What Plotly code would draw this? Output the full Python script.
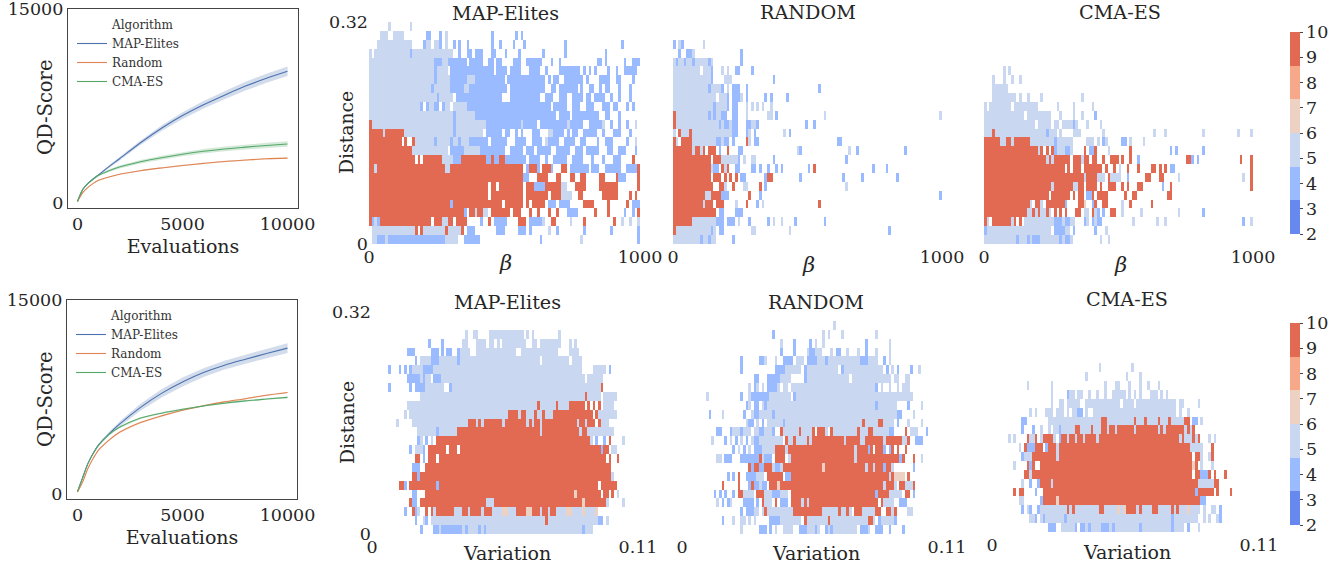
import re
import plotly.graph_objects as go

W, H = 1338, 566
FONT = "DejaVu Serif"
INK = "#262626"

evals = [0, 250, 500, 750, 1000, 1500, 2000, 3000, 4000, 5000, 6000, 7000, 8000, 9000, 10000]
top_map = [120, 1050, 1520, 1860, 2170, 2810, 3420, 4660, 5780, 6760, 7600, 8340, 9040, 9640, 10180]
top_rand = [120, 800, 1210, 1520, 1750, 2010, 2220, 2500, 2710, 2900, 3060, 3210, 3320, 3420, 3470]
top_cma = [120, 1056, 1520, 1855, 2140, 2500, 2780, 3190, 3500, 3770, 4000, 4180, 4320, 4450, 4560]
top_map_sd = [10, 30, 50, 60, 80, 110, 130, 180, 220, 260, 290, 310, 340, 350, 370]
top_rand_sd = [10, 30, 40, 40, 40, 40, 40, 50, 50, 50, 50, 50, 50, 50, 50]
top_cma_sd = [10, 30, 50, 70, 80, 100, 120, 140, 150, 160, 170, 180, 190, 200, 210]
bot_map = [180, 1290, 2370, 3145, 3780, 4650, 5400, 6700, 7780, 8660, 9390, 9960, 10420, 10860, 11280]
bot_rand = [150, 950, 1985, 2760, 3400, 4170, 4770, 5530, 6040, 6470, 6820, 7120, 7370, 7640, 7850]
bot_cma = [180, 1290, 2370, 3145, 3790, 4610, 5155, 5870, 6250, 6550, 6810, 7020, 7200, 7340, 7470]
bot_map_sd = [10, 40, 60, 80, 100, 150, 200, 270, 320, 340, 340, 340, 350, 360, 370]
bot_rand_sd = [10, 30, 40, 50, 60, 70, 70, 70, 70, 60, 60, 60, 60, 60, 60]
bot_cma_sd = [10, 30, 40, 50, 60, 70, 70, 70, 70, 70, 60, 60, 60, 60, 60]

# One string per row of bins, top row first. letter = elite band, digits = bin index or range.
levels = {"b": 4.0, "l": 5.3, "e": 6.5, "r": 9.5}
me_beta = [
"l7 l15",
"l4-6 l9-12 b21-22 b26 l28 b45 b54 b56",
"l3-15 b20 l21-22 l24-25 b26 l28 b31 b33 b36 b45 b48 b53 b57 b72 b93",
"l0 l2-14 b15 l16-30 b33 b36-37 b39-41 b45-46 b50 b55 b64 b72 b87",
"l0-23 b24-26 l27-28 b29-35 b37-41 b44-45 b47-48 b53-55 b58-63 b67 b70 b84-85 b87 b94 b97-99",
"l0-23 b24 l25-28 b30-36 b37-41 b42-45 b47-50 b52-55 b59-62 b65 b70-77 b79 b81 b83 b88 b91 b94-98",
"l0-23 b24 l25-29 b30-35 l36-38 b39-49 b51-64 b66 b68-69 b72-78 b80 b85-88 b91-92 b97",
"l0-22 b23 l24-29 b30-34 l35-36 b37-50 b52-64 b67-68 b70-76 b78 b81-82 b85 b87-88 b92 b96",
"l0-24 b25 l26-30 b32-48 b52-62 b65-67 b70-72 b75-78 b80-81 b83-86 b89 b92 b96",
"l0-18 b19 b21 l22-23 b24-25 b27 l28-29 l31-35 b36-59 b60-64 b65-66 b68-72 b75-77 b80-82 b86-88 b90-91 b95 b97",
"l0-30 b31 l32-38 b39-59 b60-68 b70-73 b75-80 b81-84 b87-88 b92",
"r0 l1-30 b31 l32-42 b43-55 l56 b57-61 b63-72 l73 b74-78 b81-85 l86 b89 b92 b95 l98",
"r0-4 l5 r6-12 l13-30 b31 l32-41 b43-48 b50-51 b54 b56 b60-62 l66-67 b68-71 b73 b75-76 b79-83 b86 b90-92 b96",
"r0-11 r13 r16 l17-23 b24 l25-29 b30 l31-32 b33 l34-36 b37-43 b45-50 b54-57 b60-63 l65 b66-69 b72-75 b78-79 b84 b87-89 b95 l98",
"r0-15 l16-28 b30-34 l35-40 b41-49 b52-56 b58-60 b62-66 b69-73 b76-78 b80-84 b88-89 b92-94 b98",
"r0-16 r18 r20-26 l27-30 b31-33 r34-36 r37-42 b43-44 r45 b46-47 r48-49 b50-57 b59-62 b65 b68-72 b75-78 b82 b86 b90-92 r97",
"r0-1 l2 r3-27 l28-29 r30-56 b58 r59-61 b62 r64-66 b67 r71-72 b74-80 b82-84 b87-92 b95-98 r99",
"r0-56 b57-58 r62-65 r69-70 r74-75 r78-79 r85-86 r91 b92-94 r99",
"r0-43 r45-46 r48-56 r58-60 b61-64 r65-70 l71-72 r76-79 r85-91 r99",
"r0-43 r45-56 r58-65 r67-70 l71-74 r77-78 r86-87 r88-91 r96 r98",
"r0-29 b30 r31-48 r50-56 r58 r60-64 b66-68 b70-73 r79-82 r88 r95 b97-99",
"r0-34 b35 r37-38 l39 r40-41 l42-43 r45-51 r53-55 r59 r62 r66 r69 b73-76 r83 r88 b94 b97 r99",
"r0 b1 l2 b3 r4-22 r24-26 l27-28 r29-30 r32-35 b41 r44 b46-50 r55-57 b59-63 l64 r67-68 l74 r79 r90 l93 l96 l99",
"l1-16 r17 r19 l20-27 r28 l29-33 r34 b36-38 b47-49 b55-57 b59 l66 b69 b79 b89 b99",
"l1-2 b3-5 l6 b7-27 l28-32 b35-40 b63 l78 b99",
]
rand_beta = [
"", "",
"b0 l2 b3 l11",
"b2 b5-6 l7 b25",
"l0 b1 l2-3 b4 l5-6 b7 l8-9 l10-12 b13 l14 b25",
"l0-9 l11-13 b14 l18 l20 b23-24 b29",
"l0-13 b14 l19-21 b37",
"l0-12 b13 l14-17 b18 l20 b22-24 b27 b54",
"l0-15 l17-19 b20 b22-24 l25 b27 b34 b36 b42",
"l0-14 b15 l16-19 b20 b22-23 l27 l29 l31 l33 l36",
"r0 l1-12 b13 l14 b15 l16-17 b18-19 b22-23 l27 l35-36 b38 l56 l99",
"r0 l1-16 b17 l18 b19-20 l21 b22-23 b27-28 l29-30 b31 b49 b52",
"l0 r2 l3-5 r6 l7-21 b22-23 b27 l28 b30 l41 b43",
"r0 l1 r3-6 l7-15 b16-17 l18 b19-20 b22 r27 l28 b30-31 b61-62",
"r0-6 l7 r8-9 l10 r11 r13-15 b17 r20 b24-25 l46 b47 l65 b68 b86",
"r0-13 r15-17 l18-23 b24 l26 l29-30 b37 b64",
"r0-13 l14 b15-16 r18 l19 r20 b23-24 b29-30 b32 b35 b38 b40 b50 r52 b74 b79",
"r0-13 r15-17 r19 r21 r23 b25-26 b34 r35-36 b47 b63 b70 b83",
"r0-14 r17-18 l19 r22 l26-27 r32 b34 l64",
"r0-11 l12-13 r14-17 b18-20 r28 b32 b99",
"r0-10 l11 r12-14 r16-18 l23 r27 b31 l33 r54",
"r0-15 b17-18 b23-25",
"r0-6 l7-15 b16-18 b20-22 l24 b28 b35 l37 l40 b45 b56",
"r0 l1-13 b14 l15 b17-18 l29-30 l43 b80",
"l0-9 b10 l11-12 b13 l14-15 b22",
]
cma_beta = [
"", "", "", "", "",
"l7 l9",
"l3 l7 l10 l13",
"l3-8",
"l3-8 l9-11 l13 l16 l21 l36",
"l0 l2-9 l11-19 l27 l33 l40",
"l0-14 l16-24 l28 l33 l36 b41",
"l0-18 l20-24 l26-27 l29-32 b33 l34 l38 l43",
"l0-2 r3 l4-22 b23 l24-26 l28 l33-35 l44 l63 l67 l81 l94 l99",
"r0-5 r8-9 r11-16 l6-7 l10 l17-25 b26 l27-29 l30-32 l38-40 l42 b44 l45 b51-52 l54 l59",
"r0-19 l20 r21 r23 r25 b26 l27-29 b30-31 l32 r37 b39-40 r41 l46 r54 b69 b71 b81",
"r0-22 l23 r24 l25 r26-29 r30-31 r33-35 l36 r37-38 r40-41 r44 r47-49 r51 r54 b57 r75-76 b77 b79 r95 r99",
"r0-29 r31 r33-35 r37-43 r45 r48 l50 r53 r57 r62-63 r65 r67 b69-70 r99",
"r0-36 l37 r38-41 l42-44 r46 l47-50 b53 r60-61 r65-66 l72 l96 r99",
"r0-24 l25 r26-32 l33-34 r35-36 r38-41 r43 r46-48 r51 r53 r57-58 b66 r69 r99",
"r0-23 r25-31 r33 r35-36 b38-39 r40 r42-45 r52 r55-56 r68-69",
"r0-16 l17 r19-20 l21 r23-29 b30 r35-36 e37 b40 r41 r44-45 l51 r54 r62",
"r0-15 l16-17 r18 l19 r20 l21-22 r23 l24 r26 r28 r30 r34-35 l37-38 r40 l41 b42 b44 r47-48 l51 l58 l72 b81",
"r0 l1 r3-9 l10 r11 r13 l15-25 b26-28 l29 b30-31 l32-33 b37 l38 b40 l41 b42-43 l55 l64 l67 b96 l99",
"b0 l1-24 b26-29 l30-31 b33 b41 l45",
"l0-11 b12 l13-15 b16 l17 b18-20 l21-27 b28 l29 b30-31 l32 l43 l46",
]
me_var = [
"", "",
"l35 l38-39 l44-56 l58 l60 l70",
"b21 b26 l34-35 l39-42 l44 l45 l47 l49-57 l60-61 l63-70 l74 l76",
"b13-15 b22-24 b26 b28 b29 b32 l33-36 l39-53 l56-69 l74-75 l76-77",
"b16 l18-21 b22-24 l25-31 b32 l33-62 l64-73 l75-78",
"b6 b10 b12 b14 l15-18 b19-22 l23-78 l83-87 b89",
"b13-17 l18 b19 l20-21 b23-25 l26-79 l81-86",
"b6 b14 b16-19 l20-26 b29 l30-85 r86",
"l18-79 r80 l81-85 l87-91",
"l13-61 r62 l63-68 r69 l70-73 r74-76 r77-79 r81 r83 r85 l87-90",
"l12 l14-15 l16-50 r51-54 l55 r56-57 l58-60 r61 l62-63 r64 l65-67 r68-82 r84 l85-91",
"l9 l15-35 r36-38 l39 r40 l41 r42-48 l49 r50-57 l58 r59 l60 r61-62 l63 r64-76 l77 r78-79 l80 r81-83 r85 l86-88",
"l17-23 b24 l25-31 r32-62 l63 r64-77 l78 r79-80 l81-90",
"b17 l18 b20 l22 r24-81 l82 b84 b87 r89 l94",
"b14 l16-18 b19 r21-27 r29-31 r33-85 b86 r87-88 l90-91",
"r16-17 b19 r21-23 r25-87 r89 r92",
"b15-17 r20-89",
"r15-16 b17 r18-89 l90",
"r10-11 b12 r14-23 b24 r25-84 r86-91",
"b15-16 r20-75 e76 r77-85 r87-88 r90 l92",
"r14 b15-16 r18-42 l43-45 r46-78 e79 r80-86 r87 l88 l94",
"b12 r15 b16 l17 r20 r22 l23 r24-26 r27-30 l31-33 r34-35 l36 r37-40 l41 r42-44 l45-48 e49-50 l51-53 r54-57 e58-59 r60-62 l63 r64-65 l66 r67-68 l69-72 e73-74 l75-78 e79 l80-83 e84",
"b16 l19 b20 l22-25 l26-64 r65 l66-84 b85-86 l88",
"b18 b23-24 l25 b26-33 l34 b35 l36-39 b40 l41 b42 l43-78 b79 l80-82",
]
rand_var = [
"",
"l57",
"b34 l53 l55 l60 l73",
"l37 b42 b48 l50 l53 b69 l78",
"b37 b42 l47 b48-49 l50-52 l56 b58-59 l62 l66 b69 l73 l78",
"b22 b29-30 l31 l35 b38-41 l43-45 b47-50 l51-53 b54 l55-66 b67-69 l70-73 b76 l78",
"b22 b35-38 l39-44 b46 l47-58 b60 l61-75 b77 l79 b81 b86 l89",
"b27-28 b32-36 l37-40 b46 l47-62 l64-78 l80-81 l84-85",
"l25 b27 l28 l30 b32-35 l36 l38-39 l41-72 b73 l75 l78 l81 l83-85",
"l9 b22 l25 b26-30 b31-32 l33-40 b42 l43-86",
"b24 l25 b27-28 l30 b31 l32-72 b73 l74-80 b85 l90",
"b10 l15 b23 l26 b27-28 l29-33 b34 l35-80 b81-82 l87",
"l24 b25-26 l28 b30 l32-37 b38 l39-67 r68 l69-73 r74-75 l76-79 b81 l85 l90",
"b13-14 b18 l19-21 b22 l23-25 l27-28 b29-30 l31-33 b34 r37 l38-43 r44 l45-48 r49 r51-53 l54 r56 l57-65 r66 l67-69 r70-71 l72-77 b78-79 r84 l86-88 b92",
"l11 b16 l18 b20 l22 b24 l26 b27-28 l29-37 r39 l40-41 r42 l43-46 r47 l48 r49-60 l61 r62-66 l67-68 r69-71 r72-75 l76 r77-82 l83-84 r85 b88-90",
"b19 l21 b23 l25 b27-29 l30-34 r35-38 l39 r40-64 l65 r66-69 b70 r71 r73-75 b76 b78 r79 r81 r84",
"l13-14 b16-18 b22-28 r29 l30 b31-33 r35-38 l40 r41-64 l65 r66-81 b82 r83 r87 l90",
"r25 b26 r27-28 b29-30 r31-33 l34 b35-36 l37 r38-52 e53 r54-68 l69 r70-71 l72 r73-75 b76 r77-78 l79 b87",
"b17 b19 r21 b24-27 l28-30 r32-35 r36-37 b39-40 r41-77 l78 r79 e80-83 r85",
"r15 r21 b25 r26 b27-28 l29 b30-31 r33-35 e36 r37-75 l76 r77-79 l80 r82-83 l84-86 r87",
"b12 b14 b16 b19 r21-22 l23-26 r28-30 l31-33 b34-36 l37-39 r41-72 b73 r74-77 l78-82 r84-85 b87",
"l13 b15 b17 l18 b23-26 b28 r30 l31-33 r35 b37-39 r41-44 l45 r46 l47 r48-73 r75 l76-79 b82-84",
"b22 b24-26 l27-28 l30 r31 l32-41 r42-52 l53-58 r59 l60-61 r62 l63 r65-67 l68-72 r73-74 r77-78 l79 r80 l85-86",
"b15 l19 l22-23 l25 l27 b33-36 l37-44 r46 l47-54 r55 l56-69 r70-71 l72 b74 l75-79 b80",
"l22 b29-31 b33 l35 l38-41 b44-46 l47-49 b50 l51 b54 l55 b56 l57-65 b67-69 l70 b73-75 b78 b83",
]
cma_var = [
"", "", "", "", "", "",
"l40 l52",
"l35 l50 l55",
"l13 l22 l42 l46-47 l51 l55 l58 l62",
"l22 b28 l29-30 l32-33 l36 l39 l42 l45-49 l51 l53 l55 l59-61 l63 l65",
"l22 l25-26 l28-32 l35-47 l49-52 l54-68 l70-71 l77",
"l14 l16 l20-22 l24-26 l28 l30-31 b32-33 l35 l38-68 l70 l73",
"b11-12 l21-40 r41-42 l43-52 r53 l54-56 r57 l58-61 r62 l63-65 r66 l67-71 r72-73 b75-76 l78",
"b11 b15 l18 l21 l23-24 b25 l26-30 r31-32 l33-36 r37 l38-40 r41-42 l43 r44-45 l46 r47-52 l53 r54-61 l62 r63 l64 r65-71 l72 r73 l74 r75",
"l6 l8 r13 l14-15 r16 l18 r19-22 l23 b25 r26-27 l28 r29-30 l31 r32-33 l34 r35-38 l39 r40-69 l70 r71 l72-74 r75 l76 r77 l81 l83",
"l10 r12 b13-15 r16-18 b20 r21-23 l24 r25-73 l74-78 r82",
"b11 l12-14 r15-22 r23 l24 r25-74 r76-77 l78 l81 r82",
"l8 r13 b14 r15 r18-74 e75 r76 l78 l82",
"r12-13 l14 r15-74 r76-77 b78-80 r81 r83 r87",
"l11 b14 b17 r18-21 l22 r23-76 l77-82 r83-84",
"r8 r10-11 b16 r19-75 b76 r77-82 r84 r89",
"l10-11 b18 r19-21 r22-77 e24 b78-79",
"b11 l13 b14 b17 l18-27 r28 l29 r30 l31-39 r40-41 l42-46 e47 l48 e49 r50-53 l54 r55 l56-59 r60-61 l62-66 r67 l68 r69 l70-72 e73 l74-77 l79 l82-83 b85",
"l14-15 b16 l18 b19 l20-26 b27 l28-66 b67 l68-76 l79 l81 l84 b85",
"b21-23 l26-28 l29-30 b31 b33-34 l35 b36 l37-40 b41-43 l44 b45 l46-54 b55 l56-66 b67 l68-71 b73 l77",
]
colorbar_ticks = [2, 3, 4, 5, 6, 7, 8, 9, 10]
titles = ["MAP-Elites", "RANDOM", "CMA-ES"]
algo_names = ["MAP-Elites", "Random", "CMA-ES"]
x_ticks = [0, 5000, 10000]
y_ticks = [0, 15000]


def grid(rows):
    """Rows are written top first; the grid is returned bottom first."""
    out = []
    for row in reversed(rows):
        cells = [None] * 100
        for letter, a, b in re.findall(r"([a-z])(\d+)(?:-(\d+))?", row):
            for i in range(int(a), int(b or a) + 1):
                cells[i] = levels[letter]
        out.append(cells)
    return out


def dom(a, b, size):
    return [a / size, b / size]


def ydom(top, bottom):
    return [1 - bottom / H, 1 - top / H]


def label(text, x, y, size, angle=0):
    return dict(text=text, x=x / W, y=1 - y / H, xref="paper", yref="paper", textangle=angle,
                xanchor="center", yanchor="middle", showarrow=False, font=dict(size=size))


colors = ["#6788ee", "#9abbff", "#c9d7f0", "#edd1c2", "#f7a889", "#e26952"]
scale = []
for i, c in enumerate(colors):
    scale += [[i / 6, c], [(i + 1) / 6, c]]
line_colors = ["#4c72b0", "#dd8452", "#55a868"]
bands = ["rgba(76,114,176,0.25)", "rgba(221,132,82,0.25)", "rgba(85,168,104,0.25)"]

fig = go.Figure()
layout = dict(
    width=W, height=H, margin=dict(l=0, r=0, t=0, b=0, autoexpand=False), autosize=False,
    paper_bgcolor="white", plot_bgcolor="white",
    font=dict(family=FONT, color=INK, size=17),
    showlegend=True,
)
annotations = []

# QD-score line panels
line_panels = [
    dict(ax="", box=(68, 298, 9, 208), zero=203.0, series=[top_map, top_rand, top_cma],
         sd=[top_map_sd, top_rand_sd, top_cma_sd], legend="legend", lx=72, ly=10, ty=108),
    dict(ax="2", box=(67, 297, 300, 499), zero=494.0, series=[bot_map, bot_rand, bot_cma],
         sd=[bot_map_sd, bot_rand_sd, bot_cma_sd], legend="legend2", lx=71, ly=301, ty=400),
]
for p in line_panels:
    x0, x1, y0, y1 = p["box"]
    xid, yid = "x" + p["ax"], "y" + p["ax"]
    fig.add_trace(go.Scatter(x=[None], y=[None], mode="lines", name="Algorithm",
                             line=dict(color="rgba(0,0,0,0)", width=1),
                             xaxis=xid, yaxis=yid, legend=p["legend"]))
    for name, vals, sd, lc, bc in zip(algo_names, p["series"], p["sd"], line_colors, bands):
        up = [v + s for v, s in zip(vals, sd)]
        lo = [v - s for v, s in zip(vals, sd)]
        fig.add_trace(go.Scatter(x=evals + evals[::-1], y=up + lo[::-1], fill="toself", fillcolor=bc,
                                 mode="none", hoverinfo="skip", showlegend=False,
                                 xaxis=xid, yaxis=yid))
        fig.add_trace(go.Scatter(x=evals, y=vals, mode="lines", name=name,
                                 line=dict(color=lc, width=1.1, shape="spline", smoothing=0.8),
                                 xaxis=xid, yaxis=yid, legend=p["legend"]))
    px_per = 210 / 10000
    ypx = (p["zero"] - y0) / 15000
    layout["xaxis" + p["ax"]] = dict(
        domain=dom(x0, x1, W), anchor=yid, range=[-(77.5 - x0) / px_per, (x1 - 77.5) / px_per],
        tickvals=x_ticks, ticktext=[str(v) for v in x_ticks], ticks="", showgrid=False, zeroline=False,
        showline=True, mirror=True, linecolor="#444", linewidth=1.3,
        title=dict(text="Evaluations", font=dict(size=19), standoff=6), tickfont=dict(size=17.5))
    layout["yaxis" + p["ax"]] = dict(
        domain=ydom(y0, y1), anchor=xid, range=[-(y1 - p["zero"]) / ypx, 15000],
        tickvals=y_ticks, ticktext=[str(v) for v in y_ticks], ticks="", showgrid=False, zeroline=False,
        showline=True, mirror=True, linecolor="#444", linewidth=1.3, ticklabeloverflow="allow",
        tickfont=dict(size=17.5))
    annotations.append(label("QD-Score", 45, p["ty"], 19.5, -90))
    layout[p["legend"]] = dict(x=p["lx"] / W, y=1 - p["ly"] / H, xanchor="left", yanchor="top",
                               bgcolor="rgba(0,0,0,0)", font=dict(size=12, color="#333"),
                               itemwidth=30, tracegroupgap=0)

# Heatmap panels
heat_panels = [
    dict(rows=me_beta, box=(369, 640, 22, 244), kind="beta", title=0, tx=505, ty=13, ca="coloraxis", ytick=True, lx=505, ly=263, dx=346, dy=133),
    dict(rows=rand_beta, box=(673, 942, 22, 244), kind="beta", title=1, tx=808, ty=12, ca="coloraxis", ytick=False, lx=808, ly=265),
    dict(rows=cma_beta, box=(984, 1253, 22, 244), kind="beta", title=2, tx=1120, ty=12, ca="coloraxis", ytick=False, lx=1120, ly=265),
    dict(rows=me_var, box=(372, 638, 312, 534), kind="var", title=0, tx=507, ty=302, ca="coloraxis2", ytick=True, lx=507, ly=553, dx=347, dy=423),
    dict(rows=rand_var, box=(682, 947, 312, 534), kind="var", title=1, tx=816, ty=302, ca="coloraxis2", ytick=False, lx=816, ly=553),
    dict(rows=cma_var, box=(992, 1259, 310, 532), kind="var", title=2, tx=1127, ty=299, ca="coloraxis2", ytick=False, lx=1127, ly=552),
]
for n, p in enumerate(heat_panels):
    k = str(n + 3)
    x0, x1, y0, y1 = p["box"]
    xmax = 1000 if p["kind"] == "beta" else 0.11
    fig.add_trace(go.Heatmap(z=grid(p["rows"]), x0=xmax / 200, dx=xmax / 100, y0=0.0064, dy=0.0128,
                             coloraxis=p["ca"], xaxis="x" + k, yaxis="y" + k, xgap=0, ygap=0,
                             hoverongaps=False, showlegend=False))
    layout["xaxis" + k] = dict(
        domain=dom(x0, x1, W), anchor="y" + k, range=[0, xmax], tickvals=[0, xmax],
        ticktext=["0", "1000" if p["kind"] == "beta" else "0.11"], ticks="", showgrid=False,
        zeroline=False, showline=False, tickfont=dict(size=17.5), ticklabeloverflow="allow")
    layout["yaxis" + k] = dict(
        domain=ydom(y0, y1), anchor="x" + k, range=[0, 0.32],
        tickvals=[0, 0.32] if p["ytick"] else [], ticktext=["0", "0.32"] if p["ytick"] else [],
        ticks="", showgrid=False, zeroline=False, showline=False, tickfont=dict(size=17.5),
        ticklabeloverflow="allow")
    annotations.append(label(titles[p["title"]], p["tx"], p["ty"], 19.2))
    if p["kind"] == "beta":
        annotations.append(label("<i>β</i>", p["lx"], p["ly"], 21))
    else:
        annotations.append(label("Variation", p["lx"], p["ly"], 19))
    if p["ytick"]:
        annotations.append(label("Distance", p["dx"], p["dy"], 18.8, -90))

for ca, top, bottom in (("coloraxis", 32, 234), ("coloraxis2", 323, 525)):
    layout[ca] = dict(
        colorscale=scale, cmin=2, cmax=10,
        colorbar=dict(thickness=10, thicknessmode="pixels", len=bottom - top, lenmode="pixels",
                      x=1290 / W, xanchor="left", y=1 - top / H, yanchor="top", outlinewidth=0,
                      tickvals=colorbar_ticks, ticks="outside", ticklen=3, tickcolor="#444",
                      tickfont=dict(size=17.5), xpad=0, ypad=0))

layout["annotations"] = annotations
fig.update_layout(**layout)
fig.write_html("out.html", post_script="document.body.style.margin='0';",
               config={"displayModeBar": False})
